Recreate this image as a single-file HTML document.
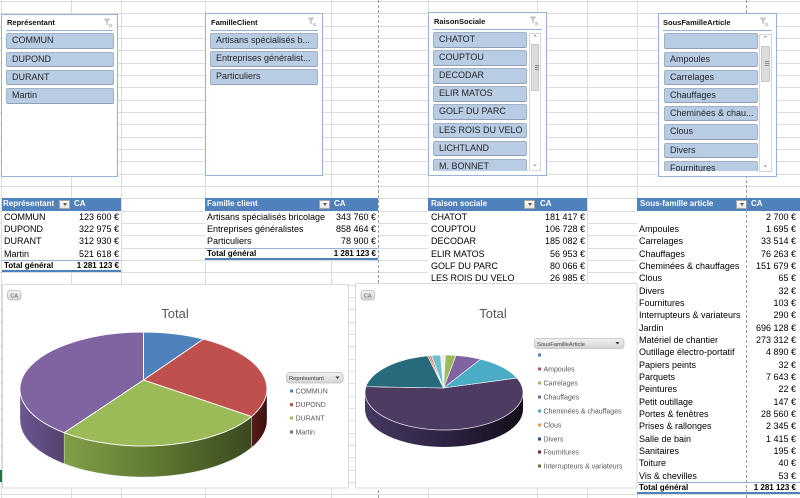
<!DOCTYPE html>
<html><head><meta charset="utf-8">
<style>
*{box-sizing:border-box}
html,body{margin:0;padding:0}
body{width:800px;height:498px;overflow:hidden;position:relative;background:#fff;font-family:"Liberation Sans",Arial,sans-serif;color:#000}
svg{position:absolute;left:0;top:0}
.tbl{position:absolute;background:#fff;font-size:9px}
.r{height:12.33px;line-height:12.33px;position:relative;white-space:nowrap}
.l{position:absolute;left:2px;top:0}
.v{position:absolute;right:2px;top:0}
.h{background:#4F81BD;color:#fff;font-weight:bold;font-size:8px}
.ca{position:absolute;top:0}
.dd{position:absolute;top:1.5px;width:11px;height:9.5px;background:linear-gradient(#fff,#e4e4e4);border:1px solid #a6a6a6}
.dd:after{content:"";position:absolute;left:2.5px;top:2.5px;border-left:2.5px solid transparent;border-right:2.5px solid transparent;border-top:3px solid #555}
.tot{font-weight:bold;font-size:8px;border-top:1px solid #95B3D7;border-bottom:2px solid #4F81BD;line-height:10.5px}
.sl{position:absolute;background:#fff;border:1px solid #95B3D7}
.st{position:absolute;font-size:7.5px;font-weight:bold;color:#111;white-space:nowrap}
.sep{position:absolute;height:1px;background:#95B3D7}
.lst{position:absolute;overflow:hidden}
.b{position:absolute;left:0;right:0;height:15.5px;background:#B8CCE4;border:1px solid #A3B1C4;border-bottom-color:#8fa0b6;border-radius:2px;font-size:9px;line-height:13.5px;padding-left:5px;color:#262626;white-space:nowrap;overflow:hidden}
.sb{position:absolute;background:#fff;border:1px solid #d6d6d6}
.thumb{position:absolute;left:1px;right:1px;background:#dcdcdc;border:1px solid #c8c8c8}
.arr{position:absolute;left:0;right:0;height:10px;font-size:7px;line-height:10px;text-align:center;color:#666}
.fi{position:absolute}
</style></head><body>

<!-- gridlines -->
<svg width="800" height="498" style="z-index:0">
<path stroke="#DCDCDC" stroke-width="1" fill="none" d="M0 1.5H800M0 13.5H800M0 26.5H800M0 38.5H800M0 50.5H800M0 63.5H800M0 75.5H800M0 87.5H800M0 100.5H800M0 112.5H800M0 124.5H800M0 137.5H800M0 149.5H800M0 161.5H800M0 174.5H800M0 186.5H800M0 198.5H800M0 211.5H800M0 223.5H800M0 235.5H800M0 248.5H800M0 260.5H800M0 272.5H800M0 285.5H800M0 297.5H800M0 309.5H800M0 322.5H800M0 334.5H800M0 346.5H800M0 359.5H800M0 371.5H800M0 383.5H800M0 396.5H800M0 408.5H800M0 420.5H800M0 433.5H800M0 445.5H800M0 457.5H800M0 470.5H800M0 482.5H800M0 494.5H800
M1.5 0V498M71.5 0V498M121.5 0V498M205.5 0V498M331.5 0V498M428.5 0V498M537.5 0V498M587.5 0V498M637.5 0V498"/>
<rect x="0" y="470" width="2.5" height="12" fill="#217346"/>
</svg>

<!-- Table 1 -->
<div class="tbl" style="left:2px;top:198.3px;width:119px;z-index:1">
<div class="r h"><span class="l" style="left:1px">Représentant</span><div class="dd" style="left:57px"></div><span class="ca" style="left:72px">CA</span></div>
<div class="r"><span class="l">COMMUN</span><span class="v">123 600 €</span></div>
<div class="r"><span class="l">DUPOND</span><span class="v">322 975 €</span></div>
<div class="r"><span class="l">DURANT</span><span class="v">312 930 €</span></div>
<div class="r"><span class="l">Martin</span><span class="v">521 618 €</span></div>
<div class="r tot"><span class="l">Total général</span><span class="v">1 281 123 €</span></div>
</div>

<!-- Table 2 -->
<div class="tbl" style="left:205px;top:198.3px;width:173px;z-index:1">
<div class="r h"><span class="l">Famille client</span><div class="dd" style="left:114px"></div><span class="ca" style="left:129px">CA</span></div>
<div class="r"><span class="l">Artisans spécialisés bricolage</span><span class="v">343 760 €</span></div>
<div class="r"><span class="l">Entreprises généralistes</span><span class="v">858 464 €</span></div>
<div class="r"><span class="l">Particuliers</span><span class="v">78 900 €</span></div>
<div class="r tot"><span class="l">Total général</span><span class="v">1 281 123 €</span></div>
</div>

<!-- Table 3 -->
<div class="tbl" style="left:428px;top:198.3px;width:159px;z-index:1">
<div class="r h"><span class="l" style="left:3px">Raison sociale</span><div class="dd" style="left:96px"></div><span class="ca" style="left:112px">CA</span></div>
<div class="r"><span class="l" style="left:3px">CHATOT</span><span class="v">181 417 €</span></div>
<div class="r"><span class="l" style="left:3px">COUPTOU</span><span class="v">106 728 €</span></div>
<div class="r"><span class="l" style="left:3px">DECODAR</span><span class="v">185 082 €</span></div>
<div class="r"><span class="l" style="left:3px">ELIR MATOS</span><span class="v">56 953 €</span></div>
<div class="r"><span class="l" style="left:3px">GOLF DU PARC</span><span class="v">80 066 €</span></div>
<div class="r"><span class="l" style="left:3px">LES ROIS DU VELO</span><span class="v">26 985 €</span></div>
<div class="r"><span class="l" style="left:3px">LICHTLAND</span><span class="v">10 000 €</span></div>
</div>

<!-- Table 4 -->
<div class="tbl" style="left:637px;top:198.3px;width:163px;z-index:1">
<div class="r h"><span class="l" style="left:3px">Sous-famille article</span><div class="dd" style="left:99px"></div><span class="ca" style="left:114px">CA</span></div>
<div class="r"><span class="v" style="right:4px">2 700 €</span></div>
<div class="r"><span class="l">Ampoules</span><span class="v" style="right:4px">1 695 €</span></div>
<div class="r"><span class="l">Carrelages</span><span class="v" style="right:4px">33 514 €</span></div>
<div class="r"><span class="l">Chauffages</span><span class="v" style="right:4px">76 263 €</span></div>
<div class="r"><span class="l">Cheminées &amp; chauffages</span><span class="v" style="right:4px">151 679 €</span></div>
<div class="r"><span class="l">Clous</span><span class="v" style="right:4px">65 €</span></div>
<div class="r"><span class="l">Divers</span><span class="v" style="right:4px">32 €</span></div>
<div class="r"><span class="l">Fournitures</span><span class="v" style="right:4px">103 €</span></div>
<div class="r"><span class="l">Interrupteurs &amp; variateurs</span><span class="v" style="right:4px">290 €</span></div>
<div class="r"><span class="l">Jardin</span><span class="v" style="right:4px">696 128 €</span></div>
<div class="r"><span class="l">Matériel de chantier</span><span class="v" style="right:4px">273 312 €</span></div>
<div class="r"><span class="l">Outillage électro-portatif</span><span class="v" style="right:4px">4 890 €</span></div>
<div class="r"><span class="l">Papiers peints</span><span class="v" style="right:4px">32 €</span></div>
<div class="r"><span class="l">Parquets</span><span class="v" style="right:4px">7 643 €</span></div>
<div class="r"><span class="l">Peintures</span><span class="v" style="right:4px">22 €</span></div>
<div class="r"><span class="l">Petit outillage</span><span class="v" style="right:4px">147 €</span></div>
<div class="r"><span class="l">Portes &amp; fenêtres</span><span class="v" style="right:4px">28 560 €</span></div>
<div class="r"><span class="l">Prises &amp; rallonges</span><span class="v" style="right:4px">2 345 €</span></div>
<div class="r"><span class="l">Salle de bain</span><span class="v" style="right:4px">1 415 €</span></div>
<div class="r"><span class="l">Sanitaires</span><span class="v" style="right:4px">195 €</span></div>
<div class="r"><span class="l">Toiture</span><span class="v" style="right:4px">40 €</span></div>
<div class="r"><span class="l">Vis &amp; chevilles</span><span class="v" style="right:4px">53 €</span></div>
<div class="r tot"><span class="l">Total général</span><span class="v" style="right:4px">1 281 123 €</span></div>
</div>

<!-- page break dashed lines -->
<svg width="800" height="498" style="z-index:2">
<path stroke="#9a9a9a" stroke-width="1" stroke-dasharray="3 2" d="M378.5 0V498M746.5 0V498"/>
</svg>

<!-- Slicer 1 -->
<div class="sl" style="left:1px;top:14px;width:117px;height:163px;z-index:3"></div>
<div class="st" style="left:7px;top:18px;z-index:3">Représentant</div>
<div class="sep" style="left:6px;top:30px;width:107px;z-index:3"></div>
<svg class="fi" style="left:103px;top:18px;z-index:3" width="10" height="10"><path d="M0.5 0.5H7.5L4.8 3.8V7.5L3.2 6.5V3.8Z" fill="#c4c4c4"/><path d="M6 6L9 9M9 6L6 9" stroke="#c4c4c4" stroke-width="1"/></svg>
<div class="lst" style="left:6px;top:33.3px;width:108px;height:140px;z-index:3">
<div class="b" style="top:0">COMMUN</div>
<div class="b" style="top:18.3px">DUPOND</div>
<div class="b" style="top:36.6px">DURANT</div>
<div class="b" style="top:55px">Martin</div>
</div>

<!-- Slicer 2 -->
<div class="sl" style="left:205px;top:13px;width:118px;height:163px;z-index:3"></div>
<div class="st" style="left:211px;top:17.5px;z-index:3">FamilleClient</div>
<div class="sep" style="left:210px;top:29.5px;width:108px;z-index:3"></div>
<svg class="fi" style="left:307px;top:17px;z-index:3" width="10" height="10"><path d="M0.5 0.5H7.5L4.8 3.8V7.5L3.2 6.5V3.8Z" fill="#c4c4c4"/><path d="M6 6L9 9M9 6L6 9" stroke="#c4c4c4" stroke-width="1"/></svg>
<div class="lst" style="left:210px;top:33px;width:108px;height:140px;z-index:3">
<div class="b" style="top:0">Artisans spécialisés b...</div>
<div class="b" style="top:18.2px">Entreprises généralist...</div>
<div class="b" style="top:36.4px">Particuliers</div>
</div>

<!-- Slicer 3 -->
<div class="sl" style="left:428px;top:12px;width:119px;height:164px;z-index:3"></div>
<div class="st" style="left:434px;top:16.5px;z-index:3">RaisonSociale</div>
<div class="sep" style="left:433px;top:28.5px;width:109px;z-index:3"></div>
<svg class="fi" style="left:529px;top:16px;z-index:3" width="10" height="10"><path d="M0.5 0.5H7.5L4.8 3.8V7.5L3.2 6.5V3.8Z" fill="#c4c4c4"/><path d="M6 6L9 9M9 6L6 9" stroke="#c4c4c4" stroke-width="1"/></svg>
<div class="lst" style="left:433px;top:32px;width:94px;height:139px;z-index:3">
<div class="b" style="top:0">CHATOT</div>
<div class="b" style="top:18.1px">COUPTOU</div>
<div class="b" style="top:36.3px">DECODAR</div>
<div class="b" style="top:54.3px">ELIR MATOS</div>
<div class="b" style="top:72.3px">GOLF DU PARC</div>
<div class="b" style="top:90.7px">LES ROIS DU VELO</div>
<div class="b" style="top:108.7px">LICHTLAND</div>
<div class="b" style="top:127px">M. BONNET</div>
</div>
<div class="sb" style="left:529px;top:33px;width:12px;height:138px;z-index:3">
<div class="arr" style="top:0">&#8963;</div>
<div class="thumb" style="top:10px;height:47px"><div style="position:absolute;left:3px;top:20px;width:4px;height:5px;border-top:1px solid #888;border-bottom:1px solid #888"></div><div style="position:absolute;left:3px;top:22px;width:4px;height:1px;background:#888"></div></div>
<div class="arr" style="bottom:0">&#8964;</div>
</div>

<!-- Slicer 4 -->
<div class="sl" style="left:658px;top:13px;width:119px;height:164px;z-index:3"></div>
<div class="st" style="left:663px;top:17.5px;z-index:3">SousFamilleArticle</div>
<div class="sep" style="left:663px;top:29.5px;width:109px;z-index:3"></div>
<svg class="fi" style="left:759px;top:17px;z-index:3" width="10" height="10"><path d="M0.5 0.5H7.5L4.8 3.8V7.5L3.2 6.5V3.8Z" fill="#c4c4c4"/><path d="M6 6L9 9M9 6L6 9" stroke="#c4c4c4" stroke-width="1"/></svg>
<div class="lst" style="left:664px;top:33.3px;width:94px;height:138px;z-index:3">
<div class="b" style="top:0"></div>
<div class="b" style="top:18.4px">Ampoules</div>
<div class="b" style="top:36.4px">Carrelages</div>
<div class="b" style="top:54.7px">Chauffages</div>
<div class="b" style="top:72.7px">Cheminées &amp; chau...</div>
<div class="b" style="top:91px">Clous</div>
<div class="b" style="top:109.4px">Divers</div>
<div class="b" style="top:127.4px">Fournitures</div>
</div>
<div class="sb" style="left:759px;top:33.5px;width:12.5px;height:138px;z-index:3">
<div class="arr" style="top:0">&#8963;</div>
<div class="thumb" style="top:11px;height:36px"><div style="position:absolute;left:3px;top:14px;width:4px;height:5px;border-top:1px solid #888;border-bottom:1px solid #888"></div><div style="position:absolute;left:3px;top:16px;width:4px;height:1px;background:#888"></div></div>
<div class="arr" style="bottom:0">&#8964;</div>
</div>

<!-- Charts -->
<svg width="800" height="498" style="z-index:4" font-family="Liberation Sans, Arial, sans-serif">
<defs>
<linearGradient id="gG" gradientUnits="userSpaceOnUse" x1="64" y1="0" x2="252" y2="0"><stop offset="0" stop-color="#819F47"/><stop offset="0.5" stop-color="#5E7832"/><stop offset="1" stop-color="#3A4920"/></linearGradient>
<linearGradient id="gP" gradientUnits="userSpaceOnUse" x1="20" y1="0" x2="64" y2="0"><stop offset="0" stop-color="#6B5790"/><stop offset="1" stop-color="#54426F"/></linearGradient>
<linearGradient id="gR" gradientUnits="userSpaceOnUse" x1="251" y1="0" x2="267" y2="0"><stop offset="0" stop-color="#5A1D1B"/><stop offset="1" stop-color="#3B1110"/></linearGradient>
<linearGradient id="gJ" gradientUnits="userSpaceOnUse" x1="365" y1="0" x2="523" y2="0"><stop offset="0" stop-color="#463860"/><stop offset="0.55" stop-color="#2C2140"/><stop offset="1" stop-color="#130E19"/></linearGradient>
<linearGradient id="btn" x1="0" y1="0" x2="0" y2="1"><stop offset="0" stop-color="#F2F2F2"/><stop offset="1" stop-color="#D3D3D3"/></linearGradient>
</defs>

<!-- Chart 1 -->
<rect x="2.5" y="284.5" width="346" height="203.5" fill="#fff" stroke="#D9D9D9"/>
<rect x="7.5" y="290.5" width="13.5" height="9.5" rx="2.5" fill="url(#btn)" stroke="#BDBDBD" stroke-width="0.8"/>
<text x="14.2" y="297.5" font-size="5.5" fill="#595959" text-anchor="middle">CA</text>
<text x="175" y="318" font-size="13" fill="#595959" text-anchor="middle">Total</text>

<path d="M267,389 A123.5,57 0 0 1 251.5,416.6 L251.5,447.6 A123.5,57 0 0 0 267,420 Z" fill="url(#gR)" stroke="#fff" stroke-width="0.5" stroke-opacity="0.6"/>
<path d="M251.5,416.6 A123.5,57 0 0 1 64.1,432.7 L64.1,463.7 A123.5,57 0 0 0 251.5,447.6 Z" fill="url(#gG)" stroke="#fff" stroke-width="0.6" stroke-opacity="0.6"/>
<path d="M64.1,432.7 A123.5,57 0 0 1 20,389 L20,420 A123.5,57 0 0 0 64.1,463.7 Z" fill="url(#gP)" stroke="#fff" stroke-width="0.5" stroke-opacity="0.6"/>

<g stroke="#fff" stroke-width="0.9" stroke-linejoin="round">
<path d="M143.5,380 L143.5,332 A123.5,57 0 0 1 203.4,339.1 Z" fill="#4F81BD"/>
<path d="M143.5,380 L203.4,339.1 A123.5,57 0 0 1 251.5,416.6 Z" fill="#C0504D"/>
<path d="M143.5,380 L251.5,416.6 A123.5,57 0 0 1 64.1,432.7 Z" fill="#9BBB59"/>
<path d="M143.5,380 L64.1,432.7 A123.5,57 0 0 1 143.5,332 Z" fill="#8064A2"/>
</g>

<rect x="286.5" y="372.5" width="56.5" height="10.5" rx="3" fill="url(#btn)" stroke="#BDBDBD" stroke-width="0.8"/>
<text x="289" y="380" font-size="5.8" fill="#404040">Représentant</text>
<path d="M335.5,376.5 h4 l-2,2.5 z" fill="#333"/>
<rect x="290" y="389.5" width="3" height="3" fill="#4F81BD"/><text x="295.5" y="393.5" font-size="7" fill="#595959">COMMUN</text>
<rect x="290" y="403.1" width="3" height="3" fill="#C0504D"/><text x="295.5" y="407.1" font-size="7" fill="#595959">DUPOND</text>
<rect x="290" y="416.5" width="3" height="3" fill="#9BBB59"/><text x="295.5" y="420.5" font-size="7" fill="#595959">DURANT</text>
<rect x="290" y="430.5" width="3" height="3" fill="#8064A2"/><text x="295.5" y="434.5" font-size="7" fill="#595959">Martin</text>

<!-- Chart 2 -->
<rect x="355.5" y="283.5" width="281.5" height="204.5" fill="#fff" stroke="#D9D9D9"/>
<rect x="361" y="290.5" width="13.5" height="9.5" rx="2.5" fill="url(#btn)" stroke="#BDBDBD" stroke-width="0.8"/>
<text x="367.7" y="297.5" font-size="5.5" fill="#595959" text-anchor="middle">CA</text>
<text x="493" y="318" font-size="13" fill="#595959" text-anchor="middle">Total</text>

<path d="M523,392.5 A79,37.5 0 0 1 365,392.5 L365,409.5 A79,37.5 0 0 0 523,409.5 Z" fill="url(#gJ)"/>
<g stroke="#fff" stroke-width="0.6" stroke-linejoin="round">
<path d="M443.5,388 L516.89,378.03 A79,37.5 0 1 1 365.97,386.63 Z" fill="#4D3B62"/>
<path d="M443.5,388 L365.97,386.63 A79,37.5 0 0 1 427.58,355.82 Z" fill="#276A7C"/>
<path d="M443.5,388 L480.47,359.24 A79,37.5 0 0 1 516.89,378.03 Z" fill="#4BACC6"/>
<path d="M443.5,388 L455.95,355.43 A79,37.5 0 0 1 480.47,359.24 Z" fill="#8064A2"/>
<path d="M443.5,388 L445.24,355 A79,37.5 0 0 1 455.95,355.43 Z" fill="#9BBB59"/>
<path d="M443.5,388 L444.69,355 A79,37.5 0 0 1 445.24,355 Z" fill="#C0504D"/>
<path d="M443.5,388 L427.58,355.82 A79,37.5 0 0 1 429.2,355.66 Z" fill="#B65708"/>
<path d="M443.5,388 L429.2,355.66 A79,37.5 0 0 1 431.37,355.48 Z" fill="#CD7371"/>
<path d="M443.5,388 L431.64,355.46 A79,37.5 0 0 1 440.56,355.04 Z" fill="#6FBDD1"/>
<path d="M443.5,388 L440.56,355.04 A79,37.5 0 0 1 441.52,355.02 Z" fill="#F9AB6B"/>
<path d="M443.5,388 L441.52,355.02 A79,37.5 0 0 1 444.69,355 Z" fill="#E4EAF2"/>
</g>
<path d="M523,392.5 A79,37.5 0 0 1 365,392.5" fill="none" stroke="#d8d0e2" stroke-width="0.8" stroke-opacity="0.7"/>

<rect x="534.5" y="338.5" width="89.5" height="10" rx="3" fill="url(#btn)" stroke="#BDBDBD" stroke-width="0.8"/>
<text x="537" y="345.8" font-size="5.8" fill="#404040">SousFamilleArticle</text>
<path d="M615.5,342 h4 l-2,2.5 z" fill="#333"/>
<g font-size="7" fill="#595959">
<rect x="538" y="353.5" width="3" height="3" fill="#4F81BD"/>
<rect x="538" y="367.5" width="3" height="3" fill="#C0504D"/><text x="543.5" y="371.5">Ampoules</text>
<rect x="538" y="381.5" width="3" height="3" fill="#9BBB59"/><text x="543.5" y="385.5">Carrelages</text>
<rect x="538" y="395.5" width="3" height="3" fill="#8064A2"/><text x="543.5" y="399.5">Chauffages</text>
<rect x="538" y="409.5" width="3" height="3" fill="#4BACC6"/><text x="543.5" y="413.5">Cheminées &amp; chauffages</text>
<rect x="538" y="423.5" width="3" height="3" fill="#F79646"/><text x="543.5" y="427.5">Clous</text>
<rect x="538" y="437.5" width="3" height="3" fill="#2C4D75"/><text x="543.5" y="441.5">Divers</text>
<rect x="538" y="450.5" width="3" height="3" fill="#772C2A"/><text x="543.5" y="454.5">Fournitures</text>
<rect x="538" y="464.5" width="3" height="3" fill="#5F7530"/><text x="543.5" y="468.5">Interrupteurs &amp; variateurs</text>
</g>
</svg>
</body></html>
